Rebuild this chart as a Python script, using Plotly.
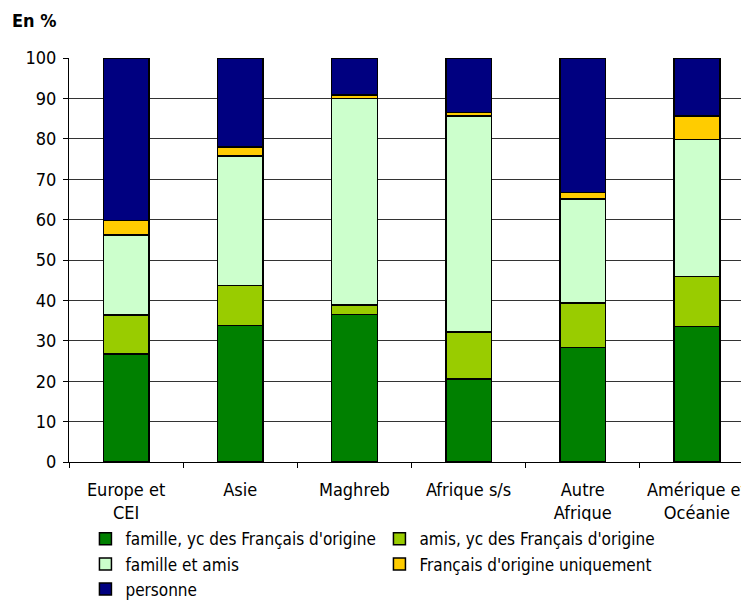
import plotly.graph_objects as go

# Share of respondents by source of help, by region of origin (En %)
regions = ['Europe et<br>CEI', 'Asie', 'Maghreb', 'Afrique s/s', 'Autre<br>Afrique', 'Amérique et<br>Océanie']

famille = [26.7, 33.8, 36.5, 20.5, 28.3, 33.5]
amis = [9.7, 9.9, 2.4, 11.7, 11.1, 12.4]
famille_amis = [19.8, 32.1, 51.1, 53.5, 25.7, 33.9]
francais = [3.6, 2.2, 0.8, 0.8, 1.6, 5.8]
personne = [40.2, 22.0, 9.2, 13.5, 33.3, 14.4]

series = [
    ("famille, yc des Français d'origine", famille, '#008000'),
    ("amis, yc des Français d'origine", amis, '#99CC00'),
    ('famille et amis', famille_amis, '#CCFFCC'),
    ("Français d'origine uniquement", francais, '#FFCC00'),
    ('personne', personne, '#000080'),
]

fig = go.Figure()
for name, vals, col in series:
    fig.add_trace(go.Bar(x=regions, y=vals, name=name, width=0.4,
                         marker=dict(color=col, line=dict(color='black', width=1.5))))

# the page body adds 8px, so margins are 8px smaller than the target positions
fig.update_layout(
    barmode='stack',
    width=749, height=601,
    margin=dict(l=61, r=3, t=50, b=147, autoexpand=False),
    plot_bgcolor='white', paper_bgcolor='white',
    font=dict(family='DejaVu Sans Condensed', size=18, color='black'),
    legend=dict(orientation='h', x=0.024, xanchor='left',
                yref='container', y=0.146, yanchor='top',
                entrywidth=249, entrywidthmode='pixels', traceorder='normal',
                font=dict(size=17), tracegroupgap=0),
    annotations=[dict(text='<b>En %</b>', xref='paper', yref='paper', x=-0.086, y=1.094,
                      xanchor='left', yanchor='middle', showarrow=False,
                      font=dict(size=18))],
)

fig.update_xaxes(range=[-0.5, 5.5], tickson='boundaries', ticks='outside', ticklen=5,
                 tickcolor='black', showline=True, linecolor='black', linewidth=1,
                 ticklabelstandoff=11, tickfont=dict(size=18))
fig.update_yaxes(range=[0, 100], dtick=10, ticks='outside', ticklen=5, tickcolor='black',
                 showline=True, linecolor='black', linewidth=1,
                 showgrid=True, gridcolor='#333333', gridwidth=1,
                 ticklabelstandoff=3, tickfont=dict(size=18), zeroline=False)

fig.write_html('out.html')
